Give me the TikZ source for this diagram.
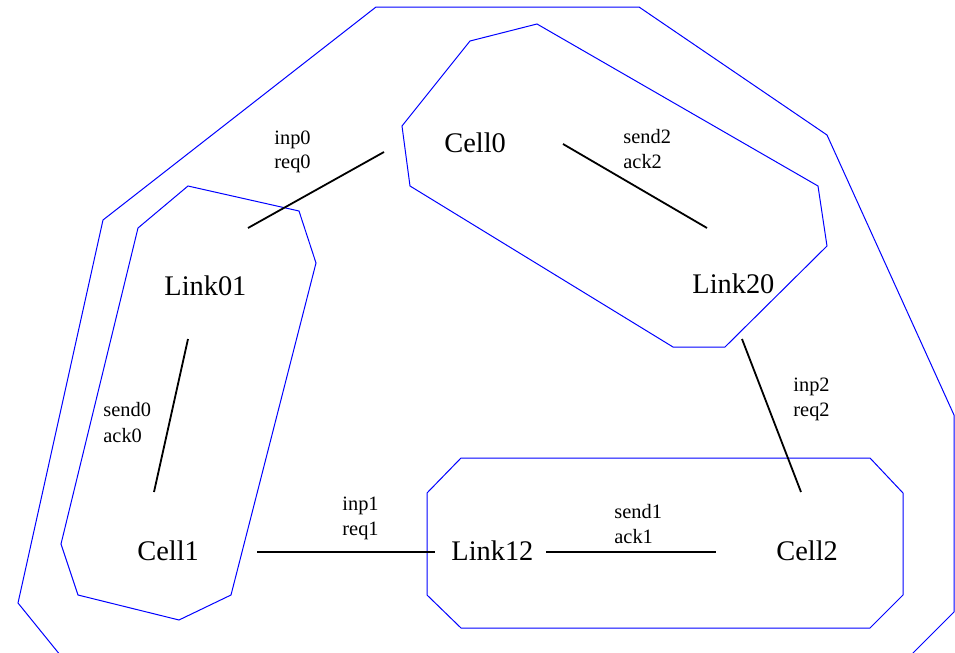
\documentclass[tikz,border=0pt]{standalone}
\usepackage{fontspec}
\setmainfont{Liberation Serif}
\begin{document}
\begin{tikzpicture}[x=0.5pt,y=-0.5pt,
  region/.style={draw=blue,line width=0.5pt,line join=miter},
  wire/.style={draw=black,line width=0.9pt},
  unit/.style={inner sep=0pt,anchor=base west,font=\fontsize{14.2}{16}\selectfont},
  sig/.style={inner sep=0pt,anchor=base west,font=\fontsize{10.2}{12}\selectfont}]
\useasboundingbox (0,0) rectangle (955,653);
\clip (0,0) rectangle (955,653);

% enclosing regions
\draw[region] (65,661) -- (18,603) -- (103,220) -- (376,7) -- (639,7) -- (827,135)
  -- (954,415) -- (954,612) -- (905,661);
\draw[region] (470,41) -- (537,24) -- (818,186) -- (827,246) -- (725,347)
  -- (673,347) -- (410,186) -- (402,126) -- cycle;
\draw[region] (188,186) -- (299,211) -- (316,263) -- (231,595) -- (179,620)
  -- (78,595) -- (61,544) -- (138,228) -- cycle;
\draw[region] (461,458) -- (870,458) -- (903,493) -- (903,595) -- (870,628)
  -- (461,628) -- (427,595) -- (427,493) -- cycle;

% processes
\node[unit] (cell0)  at (444,152) {Cell0};
\node[unit] (link20) at (692,293) {Link20};
\node[unit] (link01) at (164,295) {Link01};
\node[unit] (cell1)  at (137,560) {Cell1};
\node[unit] (link12) at (451,560) {Link12};
\node[unit] (cell2)  at (776,560) {Cell2};

% channel names
\node[sig] (inp0)  at (274,144) {inp0};
\node[sig] (req0)  at (274,169) {req0};
\node[sig] (send2) at (623,143) {send2};
\node[sig] (ack2)  at (623,168) {ack2};
\node[sig] (send0) at (103,416) {send0};
\node[sig] (ack0)  at (103,442) {ack0};
\node[sig] (inp1)  at (342,510) {inp1};
\node[sig] (req1)  at (342,535) {req1};
\node[sig] (send1) at (614,518) {send1};
\node[sig] (ack1)  at (614,543) {ack1};
\node[sig] (inp2)  at (793,391) {inp2};
\node[sig] (req2)  at (793,416) {req2};

% channel end points
\coordinate (c0w)  at (384,152);
\coordinate (l01n) at (248,228);
\coordinate (c0e)  at (563,144);
\coordinate (l20n) at (707,228);
\coordinate (l01s) at (188,339);
\coordinate (c1n)  at (154,492);
\coordinate (c1e)  at (257,552);
\coordinate (l12w) at (435,552);
\coordinate (l12e) at (546,552);
\coordinate (c2w)  at (716,552);
\coordinate (l20s) at (742,339);
\coordinate (c2n)  at (801,492);

% channels
\draw[wire] (c0w) -- (l01n);
\draw[wire] (c0e) -- (l20n);
\draw[wire] (l01s) -- (c1n);
\draw[wire] (c1e) -- (l12w);
\draw[wire] (l12e) -- (c2w);
\draw[wire] (l20s) -- (c2n);
\end{tikzpicture}
\end{document}
